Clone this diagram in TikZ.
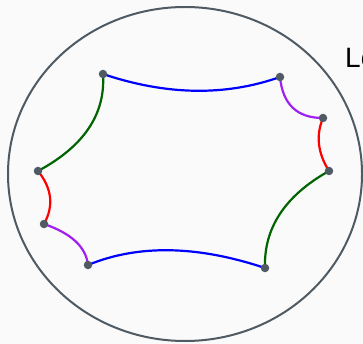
\documentclass[tikz,border=0pt]{standalone}
\usepackage{fontspec}
\usetikzlibrary{calc}
\setmainfont{Liberation Sans}
\definecolor{dotgray}{HTML}{4F5A63}
\definecolor{geoblue}{HTML}{0000FF}
\definecolor{geogreen}{HTML}{006400}
\definecolor{geored}{HTML}{FF0000}
\definecolor{geopurple}{HTML}{A020F0}
\definecolor{bg}{HTML}{FAFAFA}
\newcommand{\qarc}[4]{\draw[geo,#4] (#1.center) .. controls ($(#1.center)!2/3!(#3)$) and ($(#2.center)!2/3!(#3)$) .. (#2.center);}
\begin{document}
\begin{tikzpicture}[x=1pt,y=-1pt,
  geo/.style={line width=2.2pt},
  vtx/.style={circle,fill=dotgray,inner sep=0pt,minimum size=8.5pt}]
\useasboundingbox[fill=bg] (0,0) rectangle (363,344);
\draw[dotgray,line width=2pt] (185,174) ellipse [x radius=177, y radius=167];
\coordinate (A) at (103,74);
\coordinate (B) at (280,77);
\coordinate (C) at (323,118);
\coordinate (D) at (329,171);
\coordinate (E) at (265,268);
\coordinate (F) at (88,265);
\coordinate (G) at (44,224);
\coordinate (H) at (38,171);
\qarc{A}{B}{198,106}{geoblue}
\qarc{B}{C}{284,118}{geopurple}
\qarc{C}{D}{312,144}{geored}
\qarc{D}{E}{263,208}{geogreen}
\qarc{E}{F}{163,234}{geoblue}
\qarc{F}{G}{85,238}{geopurple}
\qarc{G}{H}{59,197}{geored}
\qarc{H}{A}{107,134}{geogreen}
\foreach \p in {A,B,C,D,E,F,G,H} \node[vtx] (v\p) at (\p) {};
\node[anchor=base west,inner sep=0pt,font=\fontsize{28}{30}\selectfont] (lbl) at (345,68) {Lo};
\end{tikzpicture}
\end{document}
